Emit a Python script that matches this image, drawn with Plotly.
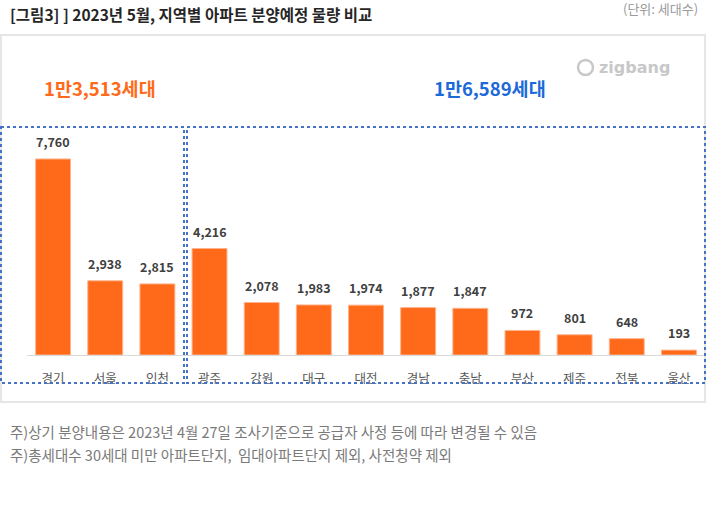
import plotly.graph_objects as go

regions = ["경기", "서울", "인천", "광주", "강원", "대구", "대전", "경남", "충남", "부산", "제주", "전북", "울산"]
units = [7760, 2938, 2815, 4216, 2078, 1983, 1974, 1877, 1847, 972, 801, 648, 193]
capital_total = "1만3,513세대"
local_total = "1만6,589세대"
title = "[그림3] ] 2023년 5월, 지역별 아파트 분양예정 물량 비교"
unit_note = "(단위: 세대수)"
notes = [
    "주)상기 분양내용은 2023년 4월 27일 조사기준으로 공급자 사정 등에 따라 변경될 수 있음",
    "주)총세대수 30세대 미만 아파트단지,  임대아파트단지 제외, 사전청약 제외",
]

W, H = 710, 506
X0, X1 = 27, 705
YB, YT = 355, 127
FONT = "Noto Sans CJK KR"


def px(x):
    return (x - X0) / (X1 - X0)


def py(y):
    return (YB - y) / (YB - YT)


fig = go.Figure()
fig.add_trace(go.Bar(
    x=regions, y=units, width=0.67,
    marker=dict(color="#FF6A1A", line=dict(color="#FFB48C", width=1)),
    hoverinfo="skip",
))

ann = []
for r, v in zip(regions, units):
    ann.append(dict(x=r, y=v, xref="x", yref="y", text=f"{v:,}", showarrow=False,
                    yanchor="bottom", yshift=6,
                    font=dict(family=FONT, size=12.5, color="#404040", weight="bold")))

ann.append(dict(x=px(8), y=py(14), xref="paper", yref="paper", text=title, showarrow=False,
                xanchor="left", yanchor="middle",
                font=dict(family=FONT, size=15.5, color="#262626", weight="bold")))
ann.append(dict(x=px(700), y=py(8), xref="paper", yref="paper", text=unit_note, showarrow=False,
                xanchor="right", yanchor="middle",
                font=dict(family=FONT, size=13, color="#9a9a9a")))
ann.append(dict(x=px(100), y=py(88), xref="paper", yref="paper", text=capital_total, showarrow=False,
                xanchor="center", yanchor="middle",
                font=dict(family=FONT, size=18.5, color="#FF6A1A", weight="bold")))
ann.append(dict(x=px(490), y=py(88), xref="paper", yref="paper", text=local_total, showarrow=False,
                xanchor="center", yanchor="middle",
                font=dict(family=FONT, size=18.5, color="#1C6AD8", weight="bold")))
ann.append(dict(x=px(597), y=py(67), xref="paper", yref="paper", text="zigbang", showarrow=False,
                xanchor="left", yanchor="middle",
                font=dict(family="DejaVu Sans", size=16, color="#c8c8c8", weight="bold")))
for i, t in enumerate(notes):
    ann.append(dict(x=px(8), y=py(431 + 23 * i), xref="paper", yref="paper", text=t, showarrow=False,
                    xanchor="left", yanchor="middle",
                    font=dict(family=FONT, size=14.5, color="#7a7a7a")))

shapes = [
    # light outer frame
    dict(type="rect", xref="paper", yref="paper", x0=px(1), x1=px(705), y0=py(35), y1=py(402),
         line=dict(color="#e6e6e6", width=2), layer="below"),
    # dotted group boxes
    dict(type="rect", xref="paper", yref="paper", x0=px(1), x1=px(184), y0=py(127), y1=py(383),
         line=dict(color="#4472C4", width=2, dash="dot")),
    dict(type="rect", xref="paper", yref="paper", x0=px(187), x1=px(705), y0=py(127), y1=py(383),
         line=dict(color="#4472C4", width=2, dash="dot")),
    # logo icon
    dict(type="circle", xref="paper", yref="paper", x0=px(578), x1=px(593), y0=py(60), y1=py(75),
         line=dict(color="#c8c8c8", width=2.5)),
]

fig.update_layout(
    width=W, height=H,
    margin=dict(l=X0, r=W - X1, t=YT, b=H - YB, pad=0),
    paper_bgcolor="white", plot_bgcolor="white",
    showlegend=False,
    font=dict(family=FONT),
    annotations=ann, shapes=shapes,
    bargap=0.33,
)
fig.update_xaxes(range=[-0.5, len(regions) - 0.5], showline=True, linecolor="#d9d9d9", linewidth=1,
                 showgrid=False, ticks="", ticklabelstandoff=12,
                 tickfont=dict(family=FONT, size=12.5, color="#595959"))
fig.update_yaxes(range=[0, 9026], visible=False, showgrid=False)

fig.write_html("out.html", config={"displayModeBar": False},
               post_script="document.body.style.margin='0';")
